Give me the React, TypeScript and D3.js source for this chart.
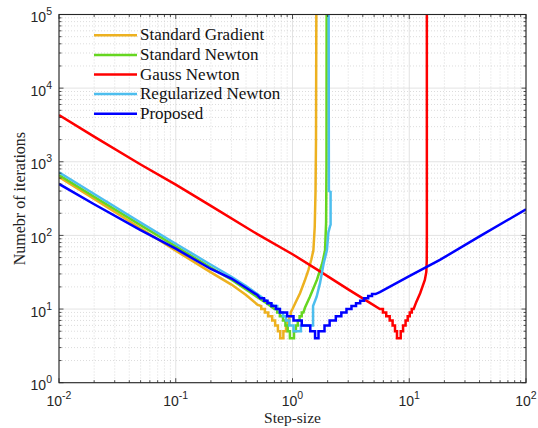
import React from 'react';
import * as d3 from 'd3';

const W = 538;
const H = 428;
const PL = 59, PR = 526, PT = 14.5, PB = 382.7;

const xTicks = [0.01, 0.1, 1, 10, 100];
const xTickExp = ['-2', '-1', '0', '1', '2'];
const yTicks = [1, 10, 100, 1000, 10000, 100000];
const yTickExp = ['0', '1', '2', '3', '4', '5'];

const seriesNames = ['Standard Gradient', 'Standard Newton', 'Gauss Newton', 'Regularized Newton', 'Proposed'];
const seriesColors = ['#EDB120', '#66D620', '#FF0000', '#4DBEEE', '#0000FF'];

const standardGradient: [number, number][] = [
  [0.01, 620], [0.02, 312], [0.05, 125], [0.1, 62], [0.2, 31.5], [0.3, 21.5], [0.4, 15.5], [0.5, 11.5],
  [0.54, 11], [0.54, 10], [0.58, 10], [0.58, 9], [0.62, 9], [0.62, 8], [0.67, 8], [0.67, 7],
  [0.71, 7], [0.71, 6], [0.75, 6], [0.75, 5], [0.785, 5], [0.785, 4], [0.835, 4], [0.835, 5],
  [0.88, 5], [0.88, 6], [0.91, 6], [0.91, 7], [0.94, 7], [0.94, 8], [0.965, 8], [0.965, 9],
  [1.0, 10], [1.08, 13], [1.16, 16.4], [1.27, 24], [1.37, 34], [1.45, 47], [1.51, 63],
  [1.55, 130], [1.575, 400], [1.59, 2000], [1.6, 100000],
];

const standardNewton: [number, number][] = [
  [0.01, 660], [0.02, 335], [0.05, 138], [0.1, 71], [0.2, 36.5], [0.3, 25], [0.4, 18.5], [0.5, 14.5],
  [0.6, 12], [0.7, 10], [0.74, 10], [0.74, 9], [0.78, 9], [0.78, 8], [0.83, 8], [0.83, 7],
  [0.87, 7], [0.87, 6], [0.91, 6], [0.91, 5], [0.95, 5], [0.95, 4], [1.03, 4], [1.03, 5],
  [1.07, 5], [1.07, 6], [1.11, 6], [1.11, 7], [1.15, 7], [1.15, 8], [1.2, 8], [1.2, 9], [1.24, 9],
  [1.28, 10.5], [1.41, 14.7], [1.62, 25], [1.8, 42], [1.9, 63], [1.94, 150], [1.955, 1000], [1.96, 100000],
];

const gaussNewton: [number, number][] = [
  [0.01, 4300], [0.02, 2200], [0.05, 920], [0.1, 490], [0.2, 252], [0.5, 104], [1, 55.5],
  [1.72, 32.5], [3, 18.5], [4.43, 12.6], [5.6, 10], [5.95, 10], [5.95, 9], [6.35, 9], [6.35, 8],
  [6.8, 8], [6.8, 7], [7.2, 7], [7.2, 6], [7.55, 6], [7.55, 5], [7.85, 5], [7.85, 4], [8.45, 4],
  [8.45, 5], [8.85, 5], [8.85, 6], [9.3, 6], [9.3, 7], [9.7, 7], [9.7, 8], [10.1, 8], [10.1, 9],
  [10.5, 9], [10.5, 10], [10.9, 10], [11.5, 12.5], [12.4, 16.4], [13.6, 24.8], [14.0, 32],
  [14.12, 45], [14.15, 100], [14.15, 100000],
];

const regularizedNewton: [number, number][] = [
  [0.01, 720], [0.02, 365], [0.05, 150], [0.1, 77], [0.2, 40], [0.3, 27.5], [0.4, 20.5], [0.5, 16],
  [0.6, 13], [0.7, 11], [0.74, 11], [0.74, 10], [0.78, 10], [0.78, 9], [0.83, 9], [0.83, 8],
  [0.88, 8], [0.88, 7], [0.94, 7], [0.94, 6], [1.02, 6], [1.02, 5], [1.18, 5], [1.18, 6],
  [1.5, 6], [1.5, 11], [1.61, 14.7], [1.72, 22.5], [1.85, 42], [1.97, 63], [2.03, 110],
  [2.1, 135], [2.12, 140], [2.12, 390], [2.05, 400], [2.04, 100000],
];

const proposed: [number, number][] = [
  [0.01, 500], [0.02, 265], [0.05, 118], [0.1, 66], [0.2, 35], [0.3, 26], [0.4, 19.5], [0.5, 15.5],
  [0.53, 14], [0.57, 14], [0.57, 13], [0.61, 13], [0.61, 12], [0.66, 12], [0.66, 11], [0.72, 11],
  [0.72, 10], [0.78, 10], [0.78, 9], [0.9, 9], [0.9, 8], [1.02, 8], [1.02, 7], [1.2, 7], [1.2, 6],
  [1.42, 6], [1.42, 5], [1.56, 5], [1.56, 4], [1.67, 4], [1.67, 5], [1.88, 5], [1.88, 6],
  [2.08, 6], [2.08, 7], [2.35, 7], [2.35, 8], [2.62, 8], [2.62, 9], [2.9, 9], [2.9, 10],
  [3.2, 10], [3.2, 11], [3.5, 11], [3.5, 12], [3.8, 12], [3.8, 13], [4.1, 13], [4.1, 14],
  [4.45, 14], [4.45, 15], [4.8, 15], [4.8, 16], [5.15, 16], [5.6, 17], [10, 28], [18.3, 46.5],
  [40, 97], [100, 226],
];

const allSeries = [standardGradient, standardNewton, gaussNewton, regularizedNewton, proposed];

const xScale = d3.scaleLog().domain([0.01, 100]).range([PL, PR]);
const yScale = d3.scaleLog().domain([1, 100000]).range([PB, PT]);

const line = d3.line<[number, number]>()
  .x((d) => xScale(d[0]))
  .y((d) => yScale(d[1]));

function minorValues(lo: number, hi: number): number[] {
  const out: number[] = [];
  for (let d = lo; d < hi; d *= 10) {
    for (let k = 2; k <= 9; k++) out.push(d * k);
  }
  return out;
}

const xMinor = minorValues(0.01, 100);
const yMinor = minorValues(1, 100000);

const SERIF = "'Liberation Serif', 'Times New Roman', serif";
const SANS = "'Liberation Sans', Arial, Helvetica, sans-serif";
const AX = '#262626';

export default function App() {
  return (
    <svg width={W} height={H} style={{ position: 'absolute', left: 0, top: 0, background: '#fff' }}>
      <defs>
        <clipPath id="plotClip">
          <rect x={PL} y={PT} width={PR - PL} height={PB - PT} />
        </clipPath>
      </defs>
      <rect x={0} y={0} width={W} height={H} fill="#fff" />
      {/* minor grid */}
      <g stroke="#c4c4c4" strokeWidth={0.6} strokeDasharray="1 2">
        {xMinor.map((v, i) => (
          <line key={'xm' + i} x1={xScale(v)} x2={xScale(v)} y1={PT} y2={PB} />
        ))}
        {yMinor.map((v, i) => (
          <line key={'ym' + i} x1={PL} x2={PR} y1={yScale(v)} y2={yScale(v)} />
        ))}
      </g>
      {/* major grid */}
      <g stroke="#dcdcdc" strokeWidth={0.8}>
        {xTicks.map((v, i) => (
          <line key={'xg' + i} x1={xScale(v)} x2={xScale(v)} y1={PT} y2={PB} />
        ))}
        {yTicks.map((v, i) => (
          <line key={'yg' + i} x1={PL} x2={PR} y1={yScale(v)} y2={yScale(v)} />
        ))}
      </g>
      {/* series */}
      <g clipPath="url(#plotClip)" fill="none" strokeWidth={2.5} strokeLinejoin="miter" strokeLinecap="butt">
        {allSeries.map((s, i) => (
          <path key={'s' + i} d={line(s) || ''} stroke={seriesColors[i]} />
        ))}
      </g>
      {/* axes box */}
      <rect x={PL} y={PT} width={PR - PL} height={PB - PT} fill="none" stroke={AX} strokeWidth={1.1} />
      {/* ticks */}
      <g stroke={AX} strokeWidth={0.8}>
        {xTicks.map((v, i) => (
          <g key={'xt' + i}>
            <line x1={xScale(v)} x2={xScale(v)} y1={PB} y2={PB - 4.5} />
            <line x1={xScale(v)} x2={xScale(v)} y1={PT} y2={PT + 4.5} />
          </g>
        ))}
        {xMinor.map((v, i) => (
          <g key={'xmt' + i}>
            <line x1={xScale(v)} x2={xScale(v)} y1={PB} y2={PB - 2.5} />
            <line x1={xScale(v)} x2={xScale(v)} y1={PT} y2={PT + 2.5} />
          </g>
        ))}
        {yTicks.map((v, i) => (
          <g key={'yt' + i}>
            <line x1={PL} x2={PL + 4.5} y1={yScale(v)} y2={yScale(v)} />
            <line x1={PR} x2={PR - 4.5} y1={yScale(v)} y2={yScale(v)} />
          </g>
        ))}
        {yMinor.map((v, i) => (
          <g key={'ymt' + i}>
            <line x1={PL} x2={PL + 2.5} y1={yScale(v)} y2={yScale(v)} />
            <line x1={PR} x2={PR - 2.5} y1={yScale(v)} y2={yScale(v)} />
          </g>
        ))}
      </g>
      {/* tick labels */}
      <g fontFamily={SANS} fill="#262626">
        {xTicks.map((v, i) => (
          <text key={'xl' + i} x={xScale(v)} y={405.5} textAnchor="middle" fontSize={14}>
            10<tspan dy={-7} fontSize={10.5}>{xTickExp[i]}</tspan>
          </text>
        ))}
        {yTicks.map((v, i) => (
          <text key={'yl' + i} x={52} y={yScale(v) + 7.5} textAnchor="end" fontSize={14}>
            10<tspan dy={-7} fontSize={10.5}>{yTickExp[i]}</tspan>
          </text>
        ))}
      </g>
      {/* axis labels */}
      <text x={(PL + PR) / 2} y={423} textAnchor="middle" fontFamily={SERIF} fontSize={15.5} fill="#222">
        Step-size
      </text>
      <text
        transform={`translate(25, ${(PT + PB) / 2}) rotate(-90)`}
        textAnchor="middle"
        fontFamily={SERIF}
        fontSize={16}
        fill="#222"
      >
        Numebr of iterations
      </text>
      {/* legend */}
      <g>
        {seriesNames.map((n, i) => {
          const y = 35.3 + i * 19.6;
          return (
            <g key={'lg' + i}>
              <line x1={94} x2={137} y1={y} y2={y} stroke={seriesColors[i]} strokeWidth={2.5} />
              <text x={140} y={y + 5} fontFamily={SERIF} fontSize={17} fill="#111">
                {n}
              </text>
            </g>
          );
        })}
      </g>
    </svg>
  );
}
